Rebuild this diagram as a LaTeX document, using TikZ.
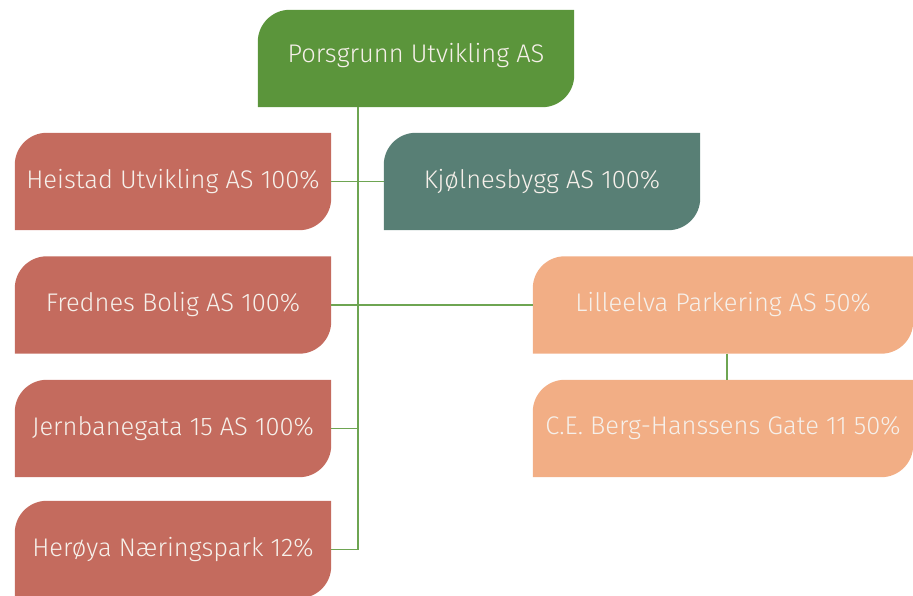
\documentclass[tikz,border=0pt]{standalone}
\usepackage{fontspec}
\setmainfont{Fira Sans}[UprightFont=* Light]
\usepackage{tikz}
\usetikzlibrary{backgrounds}

\definecolor{topgreen}{HTML}{5B953B}
\definecolor{brick}{HTML}{C46B5E}
\definecolor{slate}{HTML}{587F75}
\definecolor{peach}{HTML}{F2AE85}
\definecolor{wire}{HTML}{6EA552}
\definecolor{paper}{HTML}{F6F0EA}

\begin{document}
\begin{tikzpicture}[x=1pt,y=1pt,
    company/.style={minimum width=316pt,minimum height=97pt,inner sep=0pt,
      text=paper,font=\fontsize{25.5}{30}\selectfont},
    link/.style={draw=wire,line width=1.2pt}]
  \useasboundingbox (0,0) rectangle (913,-596);
  \def\r{32} % corner radius
  \coordinate (trunk) at (358,0);

  \node[company,text depth=12pt] (porsgrunn) at (416,-58.5) {Porsgrunn Utvikling AS};
  \node[company] (heistad) at (173,-181.5) {Heistad Utvikling AS 100\%};
  \node[company] (kjolnes) at (542,-181.5) {Kjølnesbygg AS 100\%};
  \node[company] (frednes) at (173,-305) {Frednes Bolig AS 100\%};
  \node[company,minimum width=380pt] (lilleelva) at (723,-305) {Lilleelva Parkering AS 50\%};
  \node[company] (jernbane) at (173,-428.5) {Jernbanegata 15 AS 100\%};
  \node[company,minimum width=380pt] (ceberg) at (723,-428.5) {C.E. Berg-Hanssens Gate 11 50\%};
  \node[company] (heroya) at (173,-549.5) {Herøya Næringspark 12\%};

  \begin{pgfonlayer}{background}
    % leaf shaped boxes
    \foreach \n/\c in {porsgrunn/topgreen,heistad/brick,kjolnes/slate,frednes/brick,
        lilleelva/peach,jernbane/brick,ceberg/peach,heroya/brick}
      \fill[\c] (\n.south west) -- ([yshift=-\r pt]\n.north west)
        arc[start angle=180,end angle=90,radius=\r] -- (\n.north east)
        -- ([yshift=\r pt]\n.south east)
        arc[start angle=0,end angle=-90,radius=\r] -- cycle;

    % ownership lines
    \draw[link] (porsgrunn.south -| trunk) -- (heroya.east -| trunk) -- (heroya.east);
    \draw[link] (heistad.east) -- (kjolnes.west);
    \draw[link] (frednes.east) -- (lilleelva.west);
    \draw[link] (jernbane.east) -- (jernbane.east -| trunk);
    \draw[link] ([xshift=4pt]lilleelva.south) -- ([xshift=4pt]ceberg.north);
  \end{pgfonlayer}
\end{tikzpicture}
\end{document}
